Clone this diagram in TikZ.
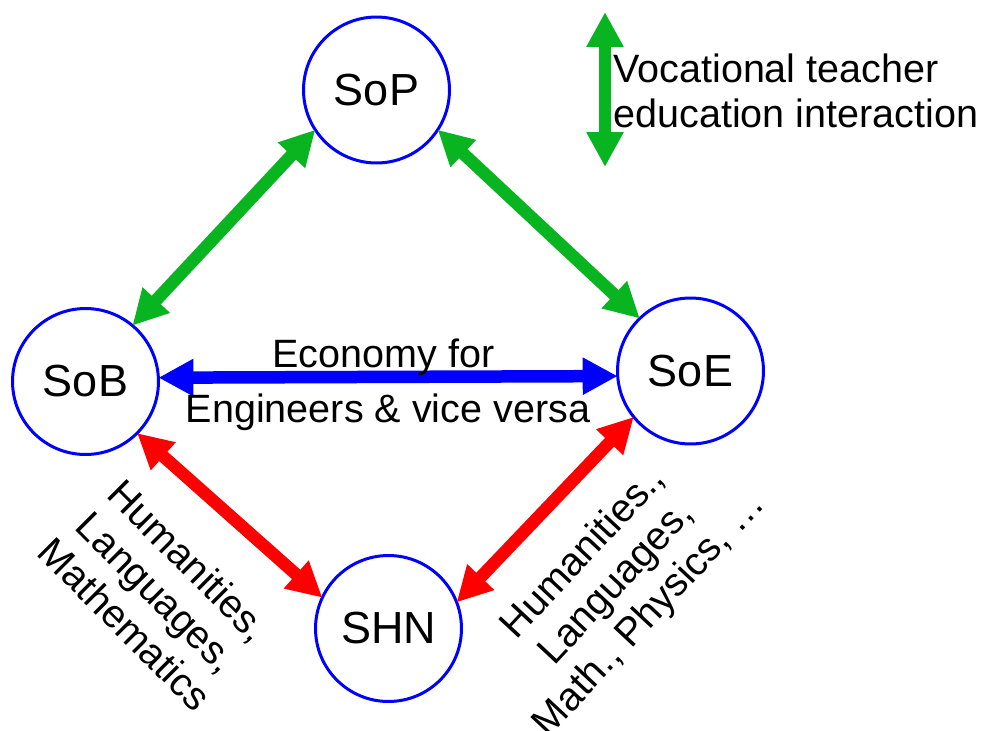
\documentclass[tikz,border=0pt]{standalone}
\usepackage{fontspec}
\setmainfont{Liberation Sans}
\usepackage{tikz}
\usetikzlibrary{arrows, arrows.meta}
\usetikzlibrary{shapes, positioning, calc}
\definecolor{vgreen}{RGB}{8,180,32}

\begin{document}
\begin{tikzpicture}[x=0.02cm, y=-0.02cm,
  font=\fontsize{22.5}{25.6}\selectfont,
  school node/.style={circle, draw=blue, line width=0.06cm, minimum size=2.92cm,
    inner sep=0pt, outer sep=0pt, font=\fontsize{25.6}{30}\selectfont},
  link/.style={line width=0.25cm,
    {Triangle[length=0.7cm,width=0.7cm]}-{Triangle[length=0.7cm,width=0.7cm]}},
  green link/.style={link, draw=vgreen},
  blue link/.style={link, draw=blue},
  red link/.style={link, draw=red},
  subj node/.style={align=center, inner sep=0pt}]
  \useasboundingbox (0,0) rectangle (985,731);
  \node[school node] (SoP) at (376.5,90) {SoP};
  \node[school node] (SoB) at (85.5,381.5) {SoB};
  \node[school node] (SoE) at (690.5,371) {SoE};
  \node[school node] (SHN) at (388.5,628.5) {SHN};
  \draw[green link] (SoB.50) -- (SoP.213.5);
  \draw[green link] (SoP.-33.5) -- (SoE.134.7);
  \draw[blue link] (SoB.3.5) -- (SoE.184.7)
    node[midway, anchor=base, xshift=-0.09cm, yshift=0.18cm] (econ) {Economy for}
    node[midway, anchor=base, yshift=-0.92cm] (eng) {Engineers \& vice versa};
  \draw[red link] (SoB.-45) -- (SHN.155.5);
  \draw[red link] (SoE.219.8) -- (SHN.21.5);
  \node[subj node, rotate=-45] (subj left) at (157,592)
    {Humanities,\\Languages,\\Mathematics};
  \node[subj node, rotate=47] (subj right) at (617,584)
    {Humanities.,\\Languages,\\Math., Physics, \ldots};
  \coordinate (leg top) at (605,12);
  \coordinate (leg bot) at (605,167);
  \draw[green link] (leg top) -- (leg bot);
  \node[anchor=west, align=left, inner sep=0pt] (legend) at (613,91)
    {Vocational teacher\\education interaction};
\end{tikzpicture}
\end{document}
